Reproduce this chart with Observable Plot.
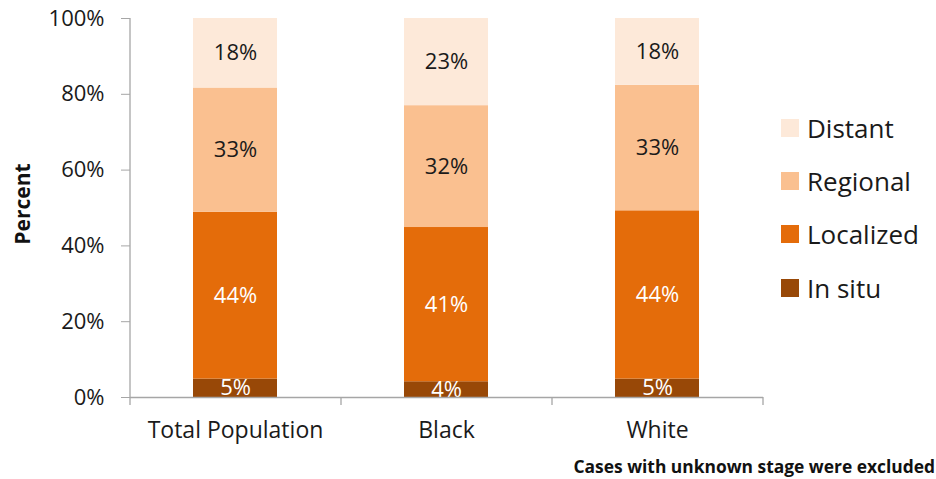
<!DOCTYPE html>
<html>
<head>
<meta charset="utf-8">
<script src="https://cdn.jsdelivr.net/npm/d3@7"></script>
<script src="https://cdn.jsdelivr.net/npm/@observablehq/plot@0.6"></script>
<style>
  html, body { margin: 0; padding: 0; background: #fff; }
  #wrap { position: relative; width: 936px; height: 479px; font-family: "Open Sans", Lato, sans-serif; }
  #legend { position: absolute; left: 781px; top: 101px; }
  .li { display: flex; align-items: center; height: 53.3px; font-size: 26px; color: #1a1a1a; }
  .sw { width: 18px; height: 18px; margin-right: 8px; }
  #caption { position: absolute; right: 1px; top: 454px; font-size: 17.4px; font-weight: bold; color: #111; white-space: nowrap; }
</style>
</head>
<body>
<div id="wrap"></div>
<script>
const categories = ["Total Population", "Black", "White"];
const stages = ["In situ", "Localized", "Regional", "Distant"];
const inSitu    = [4.86, 4.15, 4.86];
const localized = [44.0, 40.7, 44.4];
const regional  = [32.8, 32.15, 33.1];
const distant   = [18.34, 23.0, 17.64];
const yTicks = [0, 20, 40, 60, 80, 100];
const colors = ["#984807", "#E46C0A", "#FAC090", "#FDE9D9"];

const seriesValues = [inSitu, localized, regional, distant];
const data = [];
categories.forEach((c, i) => {
  stages.forEach((s, j) => data.push({category: c, stage: s, value: seriesValues[j][i]}));
});

const W = 936, H = 479, mL = 130, mR = 173, mT = 18, mB = 82;
const step = (W - mL - mR) / categories.length;
const grey = "#A6A6A6";
const dark = "#1a1a1a";
const font = "'Open Sans', Lato, sans-serif";

const lightStages = ["Regional", "Distant"];
const label = d => Math.round(d.value) + "%";

const chart = Plot.plot({
  width: W, height: H,
  marginLeft: mL, marginRight: mR, marginTop: mT, marginBottom: mB,
  style: {fontFamily: font, background: "#fff"},
  x: {domain: categories, paddingInner: 0.6, paddingOuter: 0.3, label: null},
  y: {domain: [0, 100], label: null},
  color: {domain: stages, range: colors},
  marks: [
    Plot.barY(data, Plot.stackY({x: "category", y: "value", fill: "stage", order: null})),
    Plot.text(data, Plot.stackY({
      x: "category", y: "value", z: "stage", order: null,
      text: d => lightStages.includes(d.stage) ? label(d) : null,
      fill: dark, fontSize: 22
    })),
    Plot.text(data, Plot.stackY({
      x: "category", y: "value", z: "stage", order: null,
      text: d => lightStages.includes(d.stage) ? null : label(d),
      fill: "white", fontSize: 22, clip: true
    })),
    Plot.ruleY([0], {stroke: grey, strokeWidth: 1.3}),
    Plot.ruleX([categories[0]], {dx: -step / 2, stroke: grey, strokeWidth: 1.3, insetBottom: -8}),
    Plot.ruleX(categories, {x: d => d, dx: step / 2, y1: 0, y2: 0, insetBottom: -8, stroke: grey, strokeWidth: 1.3}),
    Plot.axisY({ticks: yTicks, tickFormat: d => d + "%", tickSize: 9, tickPadding: 17, stroke: grey, fill: dark, fontSize: 22, label: null}),
    Plot.axisX({tickSize: 0, tickPadding: 24, fill: dark, fontSize: 23, label: null}),
    Plot.text(["Percent"], {frameAnchor: "left", dx: -107, dy: -4, rotate: -90, textAnchor: "middle", fontWeight: "bold", fontSize: 21, fill: "#111", text: d => d})
  ]
});

const wrap = document.getElementById("wrap");
wrap.appendChild(chart);

const legend = document.createElement("div");
legend.id = "legend";
[...stages].reverse().forEach(s => {
  const row = document.createElement("div");
  row.className = "li";
  const sw = document.createElement("div");
  sw.className = "sw";
  sw.style.background = colors[stages.indexOf(s)];
  const t = document.createElement("span");
  t.textContent = s;
  row.appendChild(sw); row.appendChild(t);
  legend.appendChild(row);
});
wrap.appendChild(legend);

const cap = document.createElement("div");
cap.id = "caption";
cap.textContent = "Cases with unknown stage were excluded";
wrap.appendChild(cap);
</script>
</body>
</html>
